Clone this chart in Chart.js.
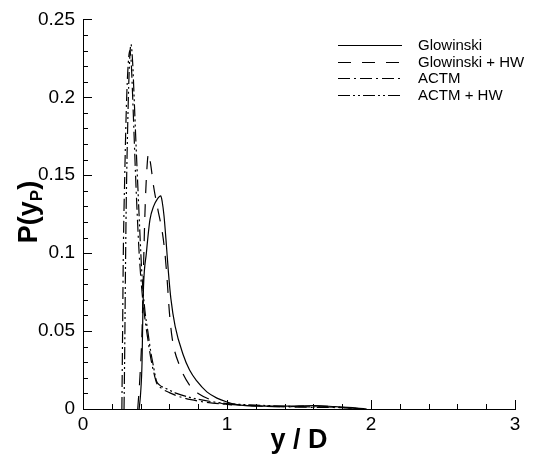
<html>
<head>
  <title>P(yP)</title>
  <script src="https://cdn.jsdelivr.net/npm/chart.js"></script>
  <style>
    body { margin: 0; background: #fff; }
  </style>
</head>
<body>
  <canvas id="pdfChart" width="533" height="457"></canvas>

  <script>
    // values
    const glowX = [0.39, 0.40, 0.41, 0.415, 0.42, 0.44, 0.465, 0.49, 0.515, 0.54, 0.55, 0.5625, 0.576, 0.593, 0.61, 0.64, 0.695, 0.74, 0.79, 0.86, 0.93, 1.0, 1.07, 1.2, 1.4, 1.6, 1.75, 1.9, 1.97];
    const glowY = [0, 0.01, 0.03, 0.058, 0.078, 0.1, 0.1215, 0.13, 0.1345, 0.1367, 0.133, 0.124, 0.109, 0.088, 0.071, 0.053, 0.035, 0.025, 0.018, 0.011, 0.007, 0.0045, 0.0028, 0.002, 0.0018, 0.0022, 0.0015, 0.0006, 0];

    const glowHwX = [0.38, 0.395, 0.41, 0.42, 0.43, 0.44, 0.455, 0.47, 0.49, 0.52, 0.553, 0.57, 0.585, 0.6, 0.62, 0.67, 0.75, 0.8, 0.93, 1.0, 1.2, 1.4, 1.6, 1.8, 1.95];
    const glowHwY = [0, 0.02, 0.05, 0.09, 0.125, 0.148, 0.164, 0.157, 0.143, 0.128, 0.112, 0.099, 0.082, 0.062, 0.045, 0.028, 0.014, 0.010, 0.0045, 0.003, 0.002, 0.0015, 0.002, 0.001, 0];

    const actmX = [0.27, 0.275, 0.28, 0.29, 0.30, 0.31, 0.325, 0.335, 0.345, 0.355, 0.365, 0.375, 0.39, 0.41, 0.43, 0.45, 0.47, 0.49, 0.51, 0.55, 0.6, 0.65, 0.75, 0.9, 1.0, 1.2, 1.5, 1.8, 1.95];
    const actmY = [0, 0.05, 0.1, 0.15, 0.19, 0.215, 0.23, 0.222, 0.2, 0.175, 0.15, 0.128, 0.1, 0.075, 0.058, 0.045, 0.033, 0.024, 0.017, 0.013, 0.0105, 0.0085, 0.006, 0.0038, 0.003, 0.002, 0.0012, 0.0008, 0];

    const actmHwX = [0.285, 0.29, 0.295, 0.30, 0.31, 0.32, 0.333, 0.345, 0.355, 0.365, 0.375, 0.385, 0.395, 0.41, 0.43, 0.45, 0.47, 0.49, 0.51, 0.53, 0.58, 0.65, 0.74, 0.9, 1.0, 1.2, 1.5, 1.8, 1.95];
    const actmHwY = [0, 0.04, 0.09, 0.13, 0.18, 0.215, 0.234, 0.222, 0.2, 0.177, 0.155, 0.134, 0.113, 0.085, 0.063, 0.05, 0.037, 0.027, 0.018, 0.0155, 0.013, 0.010, 0.0075, 0.0046, 0.0035, 0.0025, 0.0015, 0.001, 0];

    const seriesNames = ["Glowinski", "Glowinski + HW", "ACTM", "ACTM + HW"];

    const xTickValues = [0, 1, 2, 3];
    const xTickLabels = ["0", "1", "2", "3"];
    const yTickValues = [0, 0.05, 0.1, 0.15, 0.2, 0.25];
    const yTickLabels = ["0", "0.05", "0.1", "0.15", "0.2", "0.25"];

    const FONT = "'Liberation Sans', Arial, sans-serif";

    const pts = (xs, ys) => xs.map((x, i) => ({ x: x, y: ys[i] }));

    function lineSet(label, data, dash) {
      return {
        label: label,
        data: data,
        borderColor: "#000",
        borderWidth: 1.2,
        borderDash: dash,
        pointRadius: 0,
        fill: false,
        cubicInterpolationMode: "monotone"
      };
    }

    // inward tick marks, tecplot style
    const tickMarks = {
      id: "tickMarks",
      afterDraw(chart) {
        const ctx = chart.ctx;
        const xs = chart.scales.x, ys = chart.scales.y;
        const area = chart.chartArea;
        ctx.save();
        ctx.strokeStyle = "#000";
        ctx.lineWidth = 1;
        ctx.beginPath();
        for (let i = 0; i <= 15; i++) {
          const v = i * 0.2;
          const px = Math.round(xs.getPixelForValue(v)) + 0.5;
          const len = (i % 5 === 0) ? 9 : 5;
          ctx.moveTo(px, area.bottom);
          ctx.lineTo(px, area.bottom - len);
        }
        for (let i = 0; i <= 25; i++) {
          const v = i * 0.01;
          const py = Math.round(ys.getPixelForValue(v)) + 0.5;
          const len = (i % 5 === 0) ? 9 : 5;
          ctx.moveTo(area.left, py);
          ctx.lineTo(area.left + len, py);
        }
        ctx.stroke();
        ctx.restore();
      }
    };

    // legend in the top right corner + y title with subscript
    const extras = {
      id: "extras",
      afterDraw(chart) {
        const ctx = chart.ctx;
        ctx.save();
        const rows = [45, 62, 78, 95];
        chart.data.datasets.forEach((ds, i) => {
          ctx.strokeStyle = "#000";
          ctx.lineWidth = 1.2;
          ctx.setLineDash(ds.borderDash || []);
          ctx.beginPath();
          ctx.moveTo(338, rows[i] + 0.5);
          ctx.lineTo(402, rows[i] + 0.5);
          ctx.stroke();
          ctx.setLineDash([]);
          ctx.fillStyle = "#000";
          ctx.font = "15px " + FONT;
          ctx.textBaseline = "middle";
          ctx.textAlign = "left";
          ctx.fillText(ds.label, 418, rows[i] + 1);
        });

        // y axis title  P(y_P)
        ctx.translate(37, 212);
        ctx.rotate(-Math.PI / 2);
        ctx.fillStyle = "#000";
        ctx.textBaseline = "alphabetic";
        ctx.textAlign = "left";
        const big = "bold 27px " + FONT, small = "bold 17px " + FONT;
        ctx.font = big;
        const w1 = ctx.measureText("P(y").width;
        const w3 = ctx.measureText(")").width;
        ctx.font = small;
        const w2 = ctx.measureText("P").width;
        let x = -(w1 + w2 + w3) / 2;
        ctx.font = big;
        ctx.fillText("P(y", x, 0);
        x += w1;
        ctx.font = small;
        ctx.fillText("P", x, 5);
        x += w2;
        ctx.font = big;
        ctx.fillText(")", x, 0);
        ctx.restore();
      }
    };

    new Chart(document.getElementById("pdfChart"), {
      type: "line",
      data: {
        datasets: [
          lineSet(seriesNames[0], pts(glowX, glowY), []),
          lineSet(seriesNames[1], pts(glowHwX, glowHwY), [13, 11]),
          lineSet(seriesNames[2], pts(actmX, actmY), [12, 4, 2, 4]),
          lineSet(seriesNames[3], pts(actmHwX, actmHwY), [12, 3, 2, 3, 2, 3])
        ]
      },
      options: {
        responsive: false,
        animation: false,
        devicePixelRatio: 1,
        layout: { padding: { top: 14, right: 18, left: 0, bottom: 0 } },
        plugins: {
          legend: { display: false },
          tooltip: { enabled: false }
        },
        scales: {
          x: {
            type: "linear",
            min: 0,
            max: 3,
            afterFit: s => { s.height = 48; },
            afterBuildTicks: s => { s.ticks = xTickValues.map(v => ({ value: v })); },
            ticks: {
              padding: 4,
              color: "#000",
              font: { family: FONT, size: 19 },
              maxRotation: 0,
              callback: (v) => xTickLabels[xTickValues.indexOf(v)]
            },
            grid: { display: false, drawTicks: false },
            border: { display: true, color: "#000", width: 1 },
            title: {
              display: true,
              text: "y / D",
              color: "#000",
              font: { family: FONT, size: 27, weight: "bold" },
              padding: { top: 0, bottom: 0 }
            }
          },
          y: {
            min: 0,
            max: 0.25,
            afterFit: s => { s.width = 83; },
            afterBuildTicks: s => { s.ticks = yTickValues.map(v => ({ value: v })); },
            ticks: {
              padding: 8,
              color: "#000",
              font: { family: FONT, size: 19 },
              callback: (v) => yTickLabels[yTickValues.indexOf(v)]
            },
            grid: { display: false, drawTicks: false },
            border: { display: true, color: "#000", width: 1 }
          }
        }
      },
      plugins: [tickMarks, extras]
    });
  </script>
</body>
</html>
